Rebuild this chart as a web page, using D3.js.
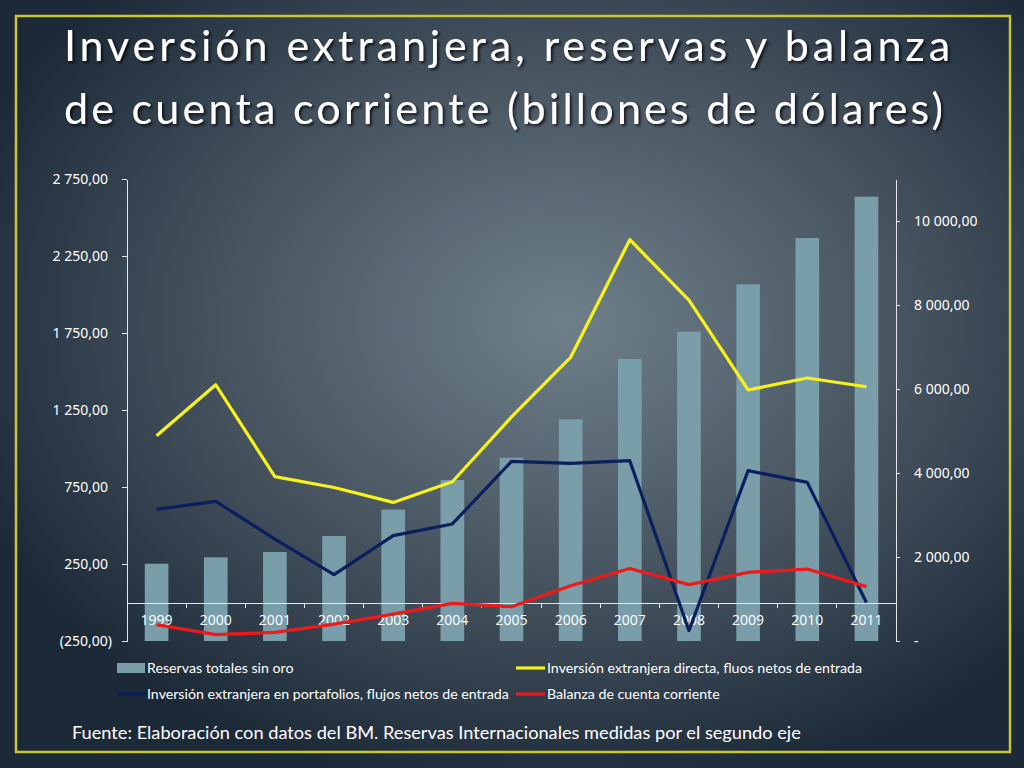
<!DOCTYPE html>
<html>
<head>
<meta charset="utf-8">
<title>Inversión extranjera, reservas y balanza</title>
<script src="https://d3js.org/d3.v7.min.js"></script>
<style>
  body { margin: 0; background: #1c2a38; }
  svg text { fill: #fff; }
  .axis path, .axis line { stroke: #e6e6e6; stroke-width: 1; shape-rendering: crispEdges; }
  .axis text { font-family: "Noto Sans", sans-serif; font-size: 14px; fill: #fff; }
  .years text { font-family: "Open Sans", sans-serif; font-size: 14px; }
  .legend text { font-family: Lato, sans-serif; font-size: 14.2px; }
</style>
</head>
<body>
<script>
// data
var years = ["1999","2000","2001","2002","2003","2004","2005","2006","2007","2008","2009","2010","2011"];
var reservas   = [1840, 1993, 2119, 2500, 3127, 3833, 4365, 5278, 6714, 7365, 8492, 9595, 10579];
var ied        = [1083, 1414, 817, 747, 650, 784, 1205, 1592, 2356, 1964, 1380, 1458, 1401];
var portafolio = [605, 657, 412, 181, 434, 510, 916, 903, 921, -183, 856, 780, 0];
var balanza    = [-144, -209, -194, -140, -75, -6, -27, 109, 221, 116, 196, 217, 103];

var leftTicks  = [-250, 250, 750, 1250, 1750, 2250, 2750];
var rightTicks = [0, 2000, 4000, 6000, 8000, 10000];

var titleLines = ["Inversión extranjera, reservas y balanza", "de cuenta corriente (billones de dólares)"];
var fuente = "Fuente: Elaboración con datos del BM. Reservas Internacionales medidas por el segundo eje";

var series = [
  {name: "Inversión extranjera directa, fluos netos de entrada", values: ied, color: "#f7f21c"},
  {name: "Inversión extranjera en portafolios, flujos netos de entrada", values: portafolio, color: "#0b1f5e"},
  {name: "Balanza de cuenta corriente", values: balanza, color: "#ec1a1a"}
];

var width = 1024, height = 768;

var svg = d3.select("body").append("svg")
  .attr("width", width)
  .attr("height", height);

var defs = svg.append("defs");
var grad = defs.append("radialGradient")
  .attr("id", "bg")
  .attr("cx", "0.55").attr("cy", "0.42").attr("r", "0.62");
grad.append("stop").attr("offset", "0").attr("stop-color", "#6f808b");
grad.append("stop").attr("offset", "0.55").attr("stop-color", "#46535f");
grad.append("stop").attr("offset", "1").attr("stop-color", "#1c2a38");

var shadow = defs.append("filter").attr("id", "shadow")
  .attr("x", "-5%").attr("y", "-20%").attr("width", "110%").attr("height", "140%");
shadow.append("feDropShadow")
  .attr("dx", 2).attr("dy", 2).attr("stdDeviation", 1.5)
  .attr("flood-color", "#000").attr("flood-opacity", 0.75);

svg.append("rect")
  .attr("width", width).attr("height", height)
  .attr("fill", "url(#bg)");

// frame
svg.append("rect")
  .attr("x", 16).attr("y", 16)
  .attr("width", 994).attr("height", 736)
  .attr("fill", "none")
  .attr("stroke", "#c8c63a")
  .attr("stroke-width", 2.5);

// title
svg.append("g").attr("filter", "url(#shadow)")
  .selectAll("text")
  .data(titleLines)
  .enter()
  .append("text")
  .attr("x", 64)
  .attr("y", (d, i) => 61 + i * 63)
  .attr("textLength", (d, i) => i == 0 ? 886 : 879)
  .attr("lengthAdjust", "spacing")
  .style("font-family", "Lato, sans-serif")
  .style("font-size", "43px")
  .text(d => d);

// scales
var x = d3.scaleBand()
  .domain(years)
  .range([127, 896])
  .paddingInner(0.6)
  .paddingOuter(0.3);

var xCat = d3.scaleBand()
  .domain(years)
  .range([127, 896]);

var yL = d3.scaleLinear().domain([-250, 2750]).range([641, 179]);
var yR = d3.scaleLinear().domain([0, 11000]).range([641, 179]);

var loc = d3.formatLocale({decimal: ",", thousands: " ", grouping: [3], currency: ["", ""]});
var fmt = loc.format("(,.2f");

// bars (second axis)
svg.append("g").selectAll("rect")
  .data(reservas)
  .enter()
  .append("rect")
  .attr("x", (d, i) => x(years[i]))
  .attr("y", d => yR(d))
  .attr("width", x.bandwidth())
  .attr("height", d => yR(0) - yR(d))
  .attr("fill", "#7a9ea9");

// category axis at zero
var xAxis = svg.append("g")
  .attr("class", "axis years")
  .attr("transform", "translate(0," + yL(0) + ")")
  .call(d3.axisBottom(xCat).tickSize(0).tickPadding(13));
xAxis.select(".domain").attr("d", "M127,0.5H896");
xAxis.selectAll(".tickmark")
  .data(years.slice(1))
  .enter()
  .append("line")
  .attr("class", "tickmark")
  .attr("x1", d => xCat(d)).attr("x2", d => xCat(d))
  .attr("y1", 0).attr("y2", 5);

// lines (first axis)
var line = d3.line()
  .x((d, i) => x(years[i]) + x.bandwidth() / 2)
  .y(d => yL(d));

svg.append("g").selectAll("path")
  .data(series)
  .enter()
  .append("path")
  .attr("d", d => line(d.values))
  .attr("fill", "none")
  .attr("stroke", d => d.color)
  .attr("stroke-width", 3.2)
  .attr("stroke-linejoin", "round");

// left axis
var leftAxis = svg.append("g")
  .attr("class", "axis")
  .attr("transform", "translate(127,0)")
  .call(d3.axisLeft(yL).tickValues(leftTicks).tickFormat(fmt).tickSize(5).tickSizeOuter(0).tickPadding(10));
leftAxis.selectAll(".tick text").attr("dx", d => d < 0 ? 0 : -4);

// right axis
svg.append("g")
  .attr("class", "axis")
  .attr("transform", "translate(896,0)")
  .call(d3.axisRight(yR).tickValues(rightTicks)
    .tickFormat(d => d == 0 ? "-" : loc.format(",.2f")(d))
    .tickSize(4).tickSizeOuter(0).tickPadding(14));

// legend
var legend = svg.append("g").attr("class", "legend");
var legendItems = [
  {name: "Reservas totales sin oro", type: "bar", color: "#7a9ea9", col: 0, row: 0},
  {name: series[0].name, type: "line", color: series[0].color, col: 1, row: 0},
  {name: series[1].name, type: "line", color: series[1].color, col: 0, row: 1},
  {name: series[2].name, type: "line", color: series[2].color, col: 1, row: 1}
];
var li = legend.selectAll("g")
  .data(legendItems)
  .enter()
  .append("g")
  .attr("transform", d => "translate(" + (d.col ? 516 : 117) + "," + (668 + d.row * 26) + ")");
li.filter(d => d.type == "bar").append("rect")
  .attr("x", 0).attr("y", -5).attr("width", 28).attr("height", 10)
  .attr("fill", d => d.color);
li.filter(d => d.type == "line").append("line")
  .attr("x1", 0).attr("x2", 29).attr("y1", 0).attr("y2", 0)
  .attr("stroke", d => d.color).attr("stroke-width", 3.2);
li.append("text")
  .attr("x", d => d.col ? 31 : 30)
  .attr("y", 0)
  .attr("dy", "0.35em")
  .text(d => d.name);

// source note
svg.append("text")
  .attr("x", 72)
  .attr("y", 739)
  .style("font-family", "Lato, sans-serif")
  .style("font-size", "18.2px")
  .text(fuente);
</script>
</body>
</html>
